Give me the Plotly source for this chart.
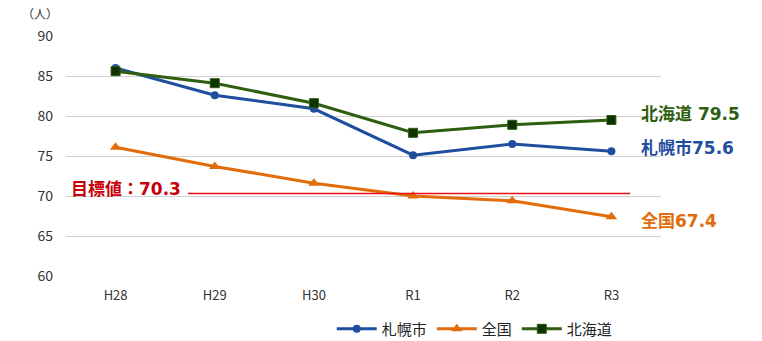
import plotly.graph_objects as go

years = ["H28", "H29", "H30", "R1", "R2", "R3"]
sapporo = [86.0, 82.6, 80.9, 75.1, 76.5, 75.6]
zenkoku = [76.1, 73.7, 71.6, 70.0, 69.4, 67.4]
hokkaido = [85.6, 84.1, 81.6, 77.9, 78.9, 79.5]
target = 70.3
y_ticks = [60, 65, 70, 75, 80, 85, 90]

BLUE = "#1F4E9F"
ORANGE = "#E26B0A"
GREEN = "#2E5E10"
GREEN_MK = "#0D3300"
RED = "#E8101A"

JP = "Noto Sans CJK JP"
LABEL_FONT = "DejaVu Sans, Noto Sans CJK JP"
TICK_FONT = "Liberation Sans Narrow, Noto Sans CJK JP"

fig = go.Figure()
fig.add_trace(go.Scatter(
    x=years, y=sapporo, name="札幌市", mode="lines+markers",
    line=dict(color=BLUE, width=3),
    marker=dict(symbol="circle", size=8, color=BLUE),
))
fig.add_trace(go.Scatter(
    x=years, y=zenkoku, name="全国", mode="lines+markers",
    line=dict(color=ORANGE, width=3),
    marker=dict(symbol="triangle-up", size=10, color=ORANGE),
))
fig.add_trace(go.Scatter(
    x=years, y=hokkaido, name="北海道", mode="lines+markers",
    line=dict(color=GREEN, width=3),
    marker=dict(symbol="square", size=9, color=GREEN_MK, line=dict(color=GREEN, width=1)),
))

# target line
fig.add_shape(type="line", xref="x", yref="y", x0=0.73, x1=5.19, y0=target, y1=target,
              line=dict(color=RED, width=1.5), layer="above")
fig.add_annotation(xref="x", yref="y", x=0.68, y=target, yshift=5,
                   text=f"<b>目標値：{target}</b>", showarrow=False, xanchor="right",
                   font=dict(family=LABEL_FONT, size=17, color="#C8000A"))

# end labels
end_labels = [
    (f"<b>北海道 {hokkaido[-1]}</b>", hokkaido[-1], 6, GREEN),
    (f"<b>札幌市{sapporo[-1]}</b>", sapporo[-1], 3, BLUE),
    (f"<b>全国{zenkoku[-1]}</b>", zenkoku[-1], -4, ORANGE),
]
for txt, yv, ys, col in end_labels:
    fig.add_annotation(xref="paper", yref="y", x=0.963, y=yv, yshift=ys,
                       text=txt, showarrow=False, xanchor="left",
                       font=dict(family=LABEL_FONT, size=17, color=col))

fig.add_annotation(xref="paper", yref="paper", x=-0.01, y=1.095, text="（人）",
                   showarrow=False, xanchor="right", yanchor="middle",
                   font=dict(family=JP, size=12, color="#333333"))

fig.update_layout(
    width=762, height=341,
    margin=dict(l=66, r=101, t=36, b=65, autoexpand=False),
    paper_bgcolor="white", plot_bgcolor="white",
    showlegend=True,
    legend=dict(orientation="h", x=0.687, y=0.035, yref="container",
                xanchor="center", yanchor="middle",
                font=dict(family=JP, size=15, color="#222222"),
                itemwidth=40, traceorder="normal"),
    xaxis=dict(type="category", range=[-0.5, 5.5], showgrid=False, zeroline=False,
               showline=False, ticks="", ticklabelstandoff=10,
               tickfont=dict(family=TICK_FONT, size=13, color="#333333")),
    yaxis=dict(range=[60, 90], tickvals=y_ticks, showgrid=True, gridcolor="#D0D0D0",
               gridwidth=1, zeroline=False, showline=False, ticks="", ticklabelstandoff=12,
               tickfont=dict(family=TICK_FONT, size=14, color="#333333")),
)

fig.write_html("out.html")
